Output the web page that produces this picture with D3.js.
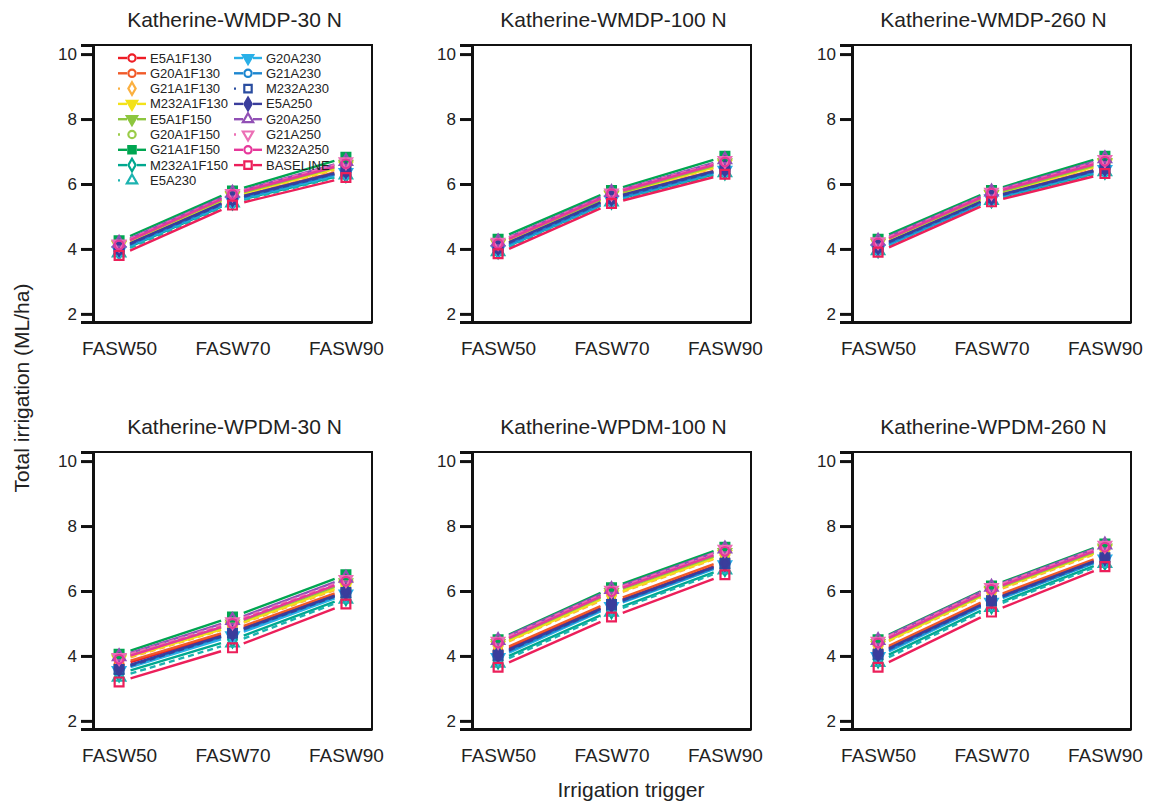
<!DOCTYPE html>
<html>
<head>
<meta charset="utf-8">
<script src="https://cdn.jsdelivr.net/npm/d3@7"></script>
<style>
  body { margin: 0; background: #fff; }
  text { font-family: "Liberation Sans", Arial, Helvetica, sans-serif; fill: #222; }
</style>
</head>
<body>
<svg id="chart" width="1150" height="802"></svg>
<script>
// Irrigation triggers on the x axis
const triggers = ["FASW50", "FASW70", "FASW90"];
const yTicks = [2, 4, 6, 8, 10];

// Scenarios (series), in plotting order
const seriesNames = [
  "E5A1F130", "G20A1F130", "G21A1F130", "M232A1F130",
  "E5A1F150", "G20A1F150", "G21A1F150", "M232A1F150",
  "E5A230", "G20A230", "G21A230", "M232A230",
  "E5A250", "G20A250", "G21A250", "M232A250", "BASELINE"
];
const seriesColors = [
  "#ee1c25", "#f15a29", "#fbb040", "#f3e21a",
  "#8dc63f", "#9bcc4a", "#00a651", "#00a88f",
  "#1cb3b0", "#29b0e8", "#1c86d0", "#2a4da0",
  "#3a3d9c", "#9150b5", "#ec6fb5", "#e6379a", "#ec1f5a"
];
const seriesShapes = [
  "circle", "circle", "diamond", "triDown",
  "triDown", "circle", "square", "diamond",
  "triUp", "triDown", "circle", "square",
  "diamond", "triUp", "triDown", "circle", "square"
];
const seriesFilled = [
  false, false, false, true,
  true, false, true, false,
  false, true, false, false,
  true, false, false, false, false
];
const seriesDashed = [
  false, false, true, false,
  false, true, false, false,
  true, false, false, true,
  false, false, true, false, false
];

// Total irrigation (ML/ha) per scenario: [FASW50, FASW70, FASW90]
const wmdp30 = [
  [3.98, 5.50, 6.38], [4.02, 5.55, 6.45], [4.08, 5.60, 6.52], [4.10, 5.62, 6.55],
  [4.12, 5.65, 6.60], [4.15, 5.68, 6.65], [4.25, 5.78, 6.82], [3.92, 5.45, 6.30],
  [3.88, 5.42, 6.28], [3.95, 5.48, 6.35], [3.98, 5.50, 6.38], [4.00, 5.52, 6.40],
  [4.02, 5.55, 6.42], [4.18, 5.72, 6.70], [4.15, 5.70, 6.68], [4.12, 5.68, 6.62],
  [3.80, 5.35, 6.20]
];
const wmdp100 = [
  [4.02, 5.55, 6.45], [4.05, 5.58, 6.50], [4.12, 5.62, 6.58], [4.14, 5.64, 6.60],
  [4.16, 5.66, 6.65], [4.20, 5.70, 6.70], [4.30, 5.80, 6.85], [3.95, 5.48, 6.38],
  [3.92, 5.45, 6.35], [3.98, 5.50, 6.42], [4.00, 5.52, 6.44], [4.04, 5.55, 6.46],
  [4.06, 5.58, 6.48], [4.22, 5.74, 6.75], [4.20, 5.72, 6.72], [4.16, 5.70, 6.68],
  [3.85, 5.40, 6.30]
];
const wmdp260 = [
  [4.05, 5.58, 6.48], [4.08, 5.60, 6.52], [4.14, 5.64, 6.60], [4.16, 5.66, 6.62],
  [4.18, 5.68, 6.66], [4.22, 5.72, 6.72], [4.30, 5.80, 6.85], [3.98, 5.52, 6.40],
  [3.95, 5.50, 6.38], [4.00, 5.54, 6.44], [4.02, 5.56, 6.46], [4.06, 5.58, 6.48],
  [4.08, 5.60, 6.50], [4.24, 5.76, 6.78], [4.22, 5.74, 6.75], [4.18, 5.72, 6.70],
  [3.90, 5.45, 6.32]
];
const wpdm30 = [
  [3.70, 4.75, 6.00], [3.75, 4.80, 6.05], [3.85, 4.90, 6.15], [3.88, 4.92, 6.18],
  [3.92, 4.98, 6.25], [3.95, 5.02, 6.30], [4.05, 5.20, 6.50], [3.45, 4.50, 5.80],
  [3.35, 4.40, 5.75], [3.55, 4.62, 5.90], [3.60, 4.68, 5.95], [3.58, 4.70, 5.95],
  [3.62, 4.72, 5.98], [3.98, 5.10, 6.40], [3.95, 5.05, 6.35], [3.90, 5.00, 6.30],
  [3.20, 4.25, 5.60]
];
const wpdm100 = [
  [4.10, 5.62, 6.88], [4.15, 5.68, 6.95], [4.30, 5.85, 7.10], [4.32, 5.88, 7.12],
  [4.38, 5.95, 7.18], [4.42, 6.00, 7.25], [4.50, 6.10, 7.35], [3.85, 5.40, 6.70],
  [3.78, 5.35, 6.65], [3.95, 5.52, 6.80], [4.00, 5.55, 6.82], [4.02, 5.58, 6.85],
  [4.05, 5.60, 6.86], [4.48, 6.05, 7.30], [4.45, 6.02, 7.28], [4.40, 5.98, 7.22],
  [3.65, 5.20, 6.50]
];
const wpdm260 = [
  [4.10, 5.75, 7.05], [4.15, 5.80, 7.10], [4.30, 5.95, 7.25], [4.32, 5.98, 7.28],
  [4.38, 6.02, 7.32], [4.42, 6.08, 7.38], [4.50, 6.15, 7.45], [3.88, 5.55, 6.90],
  [3.80, 5.50, 6.85], [3.98, 5.65, 6.98], [4.02, 5.68, 7.00], [4.05, 5.70, 7.02],
  [4.08, 5.72, 7.04], [4.48, 6.12, 7.42], [4.45, 6.10, 7.40], [4.40, 6.05, 7.35],
  [3.65, 5.35, 6.75]
];

const panelTitles = [
  "Katherine-WMDP-30 N", "Katherine-WMDP-100 N", "Katherine-WMDP-260 N",
  "Katherine-WPDM-30 N", "Katherine-WPDM-100 N", "Katherine-WPDM-260 N"
];
const panelData = [wmdp30, wmdp100, wmdp260, wpdm30, wpdm100, wpdm260];

// ---- layout ----
const svg = d3.select("#chart");
const colX = [93, 472, 852];
const rowY = [45, 452];
const pw = 279, ph = 277;

const x = d3.scaleLinear().domain([0.77, 3.23]).range([0, pw]);
const y = d3.scaleLinear().domain([1.75, 10.28]).range([ph, 0]);

function symbolPath(shape, size) {
  const map = {
    circle: d3.symbolCircle, square: d3.symbolSquare, diamond: d3.symbolDiamond,
    triUp: d3.symbolTriangle, triDown: d3.symbolTriangle
  };
  return d3.symbol().type(map[shape]).size(size)();
}

function drawMarker(g, shape, color, filled, cx, cy, scale) {
  const sizes = { circle: 60, square: 78, diamond: 66, triUp: 66, triDown: 66 };
  g.append("path")
    .attr("d", symbolPath(shape, sizes[shape] * scale))
    .attr("transform", `translate(${cx},${cy})` + (shape === "triDown" ? " rotate(180)" : ""))
    .attr("fill", filled ? color : "#fff")
    .attr("fill-opacity", filled ? 1 : 0)
    .attr("stroke", color)
    .attr("stroke-width", 2.2);
}

const gap = 12;

panelData.forEach((data, p) => {
  const g = svg.append("g")
    .attr("transform", `translate(${colX[p % 3]},${rowY[Math.floor(p / 3)]})`);

  // title
  g.append("text")
    .attr("x", pw / 2 + 2).attr("y", -18)
    .attr("text-anchor", "middle")
    .attr("font-size", 21)
    .text(panelTitles[p]);

  // series: segments broken around the points, then markers
  data.forEach((vals, s) => {
    const color = seriesColors[s];
    for (let i = 0; i < vals.length - 1; i++) {
      const x1 = x(i + 1), y1 = y(vals[i]);
      const x2 = x(i + 2), y2 = y(vals[i + 1]);
      const len = Math.hypot(x2 - x1, y2 - y1);
      const ux = (x2 - x1) / len, uy = (y2 - y1) / len;
      g.append("line")
        .attr("x1", x1 + ux * gap).attr("y1", y1 + uy * gap)
        .attr("x2", x2 - ux * gap).attr("y2", y2 - uy * gap)
        .attr("stroke", color)
        .attr("stroke-width", 2.4)
        .attr("stroke-dasharray", seriesDashed[s] ? "6,4" : null);
    }
    vals.forEach((v, i) => {
      drawMarker(g, seriesShapes[s], color, seriesFilled[s], x(i + 1), y(v), 1);
    });
  });

  // frame
  g.append("rect")
    .attr("x", 0).attr("y", 0).attr("width", pw).attr("height", ph)
    .attr("fill", "none").attr("stroke", "#111").attr("stroke-width", 2);

  // y axis
  const yAxis = d3.axisLeft(y).tickValues(yTicks).tickSize(12).tickPadding(4);
  const ya = g.append("g").call(yAxis);
  ya.select(".domain").attr("stroke", "#111").attr("stroke-width", 3);
  ya.selectAll(".tick line").attr("stroke", "#111").attr("stroke-width", 3);
  ya.selectAll(".tick text")
    .attr("font-size", 17)
    .attr("font-family", "Liberation Sans, Arial, sans-serif")
    .attr("fill", "#222");

  // x axis (labels only, heavy baseline)
  const xAxis = d3.axisBottom(x).tickValues([1, 2, 3])
    .tickFormat((d) => triggers[d - 1]).tickSize(0).tickPadding(20);
  const xa = g.append("g").attr("transform", `translate(0,${ph})`).call(xAxis);
  xa.select(".domain").attr("stroke", "#111").attr("stroke-width", 3);
  xa.selectAll(".tick text")
    .attr("font-size", 19)
    .attr("font-family", "Liberation Sans, Arial, sans-serif")
    .attr("fill", "#222");
});

// legend inside the first panel
const leg = svg.append("g").attr("transform", `translate(${colX[0]},${rowY[0]})`);
const legCols = [{ x: 39, n: 9 }, { x: 155, n: 8 }];
seriesNames.forEach((name, s) => {
  const col = s < 9 ? 0 : 1;
  const row = s < 9 ? s : s - 9;
  const cx = legCols[col].x;
  const cy = 13 + row * 15.3;
  const color = seriesColors[s];
  [[-14, -5], [5, 14]].forEach(([a, b]) => {
    if (seriesDashed[s] && a > 0) return;
    leg.append("line")
      .attr("x1", cx + a).attr("x2", seriesDashed[s] ? cx + a + 2 : cx + b)
      .attr("y1", cy).attr("y2", cy)
      .attr("stroke", color).attr("stroke-width", 2.4);
  });
  drawMarker(leg, seriesShapes[s], color, seriesFilled[s], cx, cy, 0.7);
  leg.append("text")
    .attr("x", cx + 18).attr("y", cy + 4.5)
    .attr("font-size", 13)
    .text(name);
});

// axis titles
svg.append("text")
  .attr("transform", "translate(29,388) rotate(-90)")
  .attr("text-anchor", "middle")
  .attr("font-size", 21)
  .text("Total irrigation (ML/ha)");

svg.append("text")
  .attr("x", 631).attr("y", 797)
  .attr("text-anchor", "middle")
  .attr("font-size", 21)
  .text("Irrigation trigger");
</script>
</body>
</html>
